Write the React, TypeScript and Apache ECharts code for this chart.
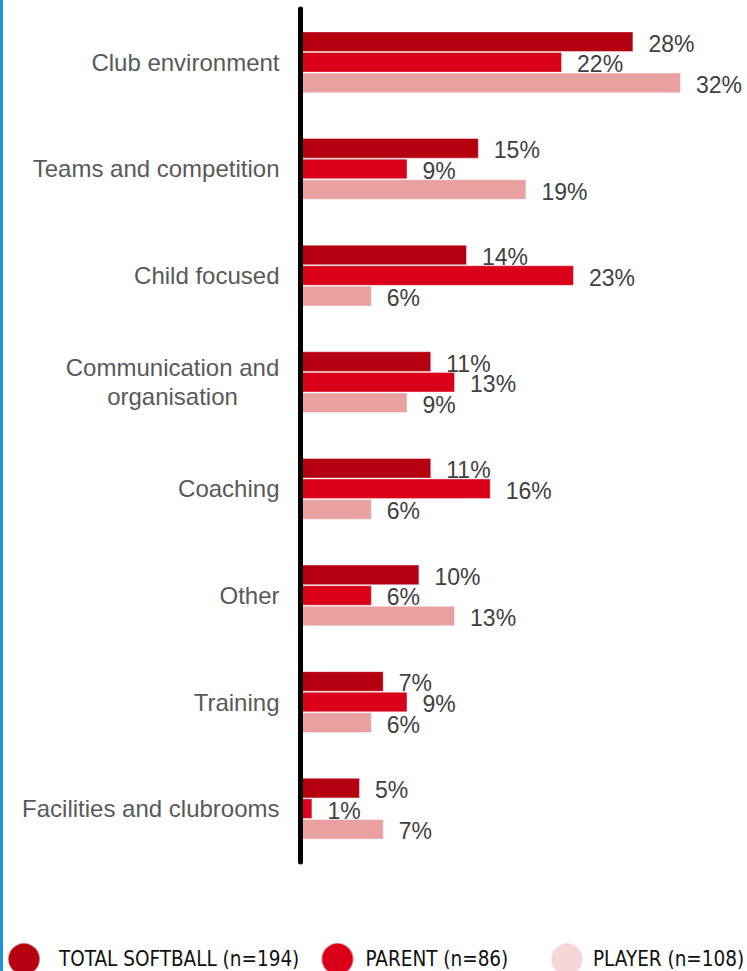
import React, { useEffect, useRef } from "react";
import * as echarts from "echarts";

const categories = [
  "Club environment",
  "Teams and competition",
  "Child focused",
  "Communication and\norganisation",
  "Coaching",
  "Other",
  "Training",
  "Facilities and clubrooms",
];

const seriesNames = ["TOTAL SOFTBALL (n=194)", "PARENT (n=86)", "PLAYER (n=108)"];
const totalValues = [28, 15, 14, 11, 11, 10, 7, 5];
const parentValues = [22, 9, 23, 13, 16, 6, 9, 1];
const playerValues = [32, 19, 6, 9, 6, 13, 6, 7];

const barColors = ["#B5000F", "#DA0019", "#E8A0A0"];
const legendColors = ["#B5000F", "#DA0019", "#F5D5D5"];

export default function App() {
  const ref = useRef<HTMLDivElement>(null);

  useEffect(() => {
    if (!ref.current) return;
    const chart = echarts.init(ref.current, null, { renderer: "svg" });
    const values = [totalValues, parentValues, playerValues];
    const legendLeft = [7, 320.5, 550];
    const legendPad = [14, 7, 5];

    const labelFont = "'Liberation Sans', Arial, sans-serif";
    const legendFont = "'Liberation Sans Narrow', 'Arial Narrow', 'DejaVu Sans Condensed', sans-serif";

    chart.setOption({
      animation: false,
      backgroundColor: "#ffffff",
      graphic: [
        {
          type: "rect",
          left: 0,
          top: 0,
          shape: { x: 0, y: 0, width: 3, height: 971 },
          style: { fill: "#1798D8" },
          z: 100,
        },
      ],
      legend: seriesNames.map((name, i) => ({
        left: legendLeft[i],
        top: 942,
        padding: 0,
        icon: "circle",
        itemWidth: 32,
        itemHeight: 32,
        selectedMode: false,
        data: [{ name, itemStyle: { color: legendColors[i] } }],
        textStyle: {
          fontFamily: legendFont,
          fontSize: 20.5,
          color: "#111111",
          padding: [0, 0, 6, legendPad[i]],
        },
      })),
      grid: {
        left: 300.5,
        top: 9,
        width: 428,
        height: 853,
        containLabel: false,
      },
      xAxis: {
        type: "value",
        min: 0,
        max: 36,
        show: false,
      },
      yAxis: {
        type: "category",
        inverse: true,
        data: categories,
        z: 10,
        axisLine: { show: true, lineStyle: { color: "#000000", width: 5 } },
        axisTick: { show: false },
        splitLine: { show: false },
        axisLabel: {
          margin: 21,
          fontFamily: labelFont,
          fontSize: 24,
          color: "#595959",
          formatter: (v: string) =>
            v.indexOf("\n") >= 0
              ? v
                  .split("\n")
                  .map((s) => "{c|" + s + "}")
                  .join("\n")
              : v,
          rich: {
            c: {
              width: 214,
              align: "center",
              fontFamily: labelFont,
              fontSize: 24,
              lineHeight: 29,
              color: "#595959",
            },
          },
        },
      },
      series: seriesNames.map((name, i) => ({
        name,
        type: "bar",
        data: values[i],
        barGap: "0%",
        barCategoryGap: "42%",
        itemStyle: {
          color: barColors[i],
          borderColor: "rgba(255,255,255,0.4)",
          borderWidth: 1,
        },
        label: {
          show: true,
          position: "right",
          distance: 15,
          offset: [0, 2],
          formatter: "{c}%",
          fontFamily: labelFont,
          fontSize: 23,
          color: "#404040",
        },
      })),
    });

    return () => chart.dispose();
  }, []);

  return (
    <div
      ref={ref}
      style={{ position: "absolute", left: 0, top: 0, width: 747, height: 971 }}
    />
  );
}
